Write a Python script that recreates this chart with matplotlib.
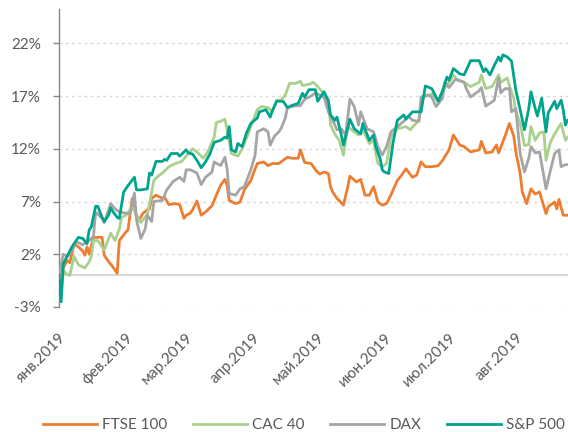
import matplotlib
matplotlib.use('Agg')
import matplotlib.pyplot as plt
import pandas as pd

plt.rcParams['font.family'] = ['Lato', 'DejaVu Sans']

# ---- data (days since 2019-01-01, cumulative change in %) ----
month_ticks = ['2019-01-01', '2019-02-01', '2019-03-01', '2019-04-01',
               '2019-05-01', '2019-06-01', '2019-07-01', '2019-08-01']
month_labels = ['янв.2019', 'фев.2019', 'мар.2019', 'апр.2019',
                'май.2019', 'июн.2019', 'июл.2019', 'авг.2019']
y_ticks = [-3, 2, 7, 12, 17, 22]

ftse_day = [0, 3, 4, 5, 7, 9, 11, 12, 13, 14,
            16, 20, 21, 23, 25, 27, 28, 31, 32, 34,
            36, 37, 39, 41, 42, 43, 45, 48, 49, 51,
            54, 56, 58, 59, 61, 62, 64, 66, 68, 71,
            73, 75, 77, 78, 79, 82, 84, 86, 89, 91,
            92, 95, 97, 99, 102, 104, 106, 108, 111, 112,
            114, 117, 119, 121, 123, 125, 126, 127, 129, 132,
            134, 135, 138, 140, 142, 144, 146, 148, 150, 152,
            154, 157, 159, 161, 164, 166, 168, 170, 173, 176,
            178, 181, 183, 186, 188, 191, 195, 196, 198, 201,
            203, 204, 207, 209, 211, 212, 214, 215, 217, 219,
            221, 223, 226, 227, 230, 231, 232, 234, 236]
ftse_pct = [0, 1.1, 1.4, 1.2, 3.0, 2.7, 2.3, 1.9, 2.7, 2.0,
            3.6, 3.6, 1.9, 1.3, 0.8, 0.2, 3.3, 4.1, 4.3, 7.3,
            5.5, 5.2, 5.9, 6.2, 6.3, 7.3, 7.6, 7.3, 7.4, 6.7,
            6.8, 6.7, 5.4, 5.7, 5.9, 6.2, 7.05, 5.7, 6.0, 6.6,
            7.6, 8.55, 9.1, 8.55, 7.1, 6.8, 6.95, 8.1, 9.0, 10.1,
            10.6, 10.75, 10.4, 10.6, 10.6, 10.9, 11.2, 11.1, 11.1, 11.9,
            10.7, 10.6, 10.0, 9.6, 9.8, 9.65, 8.4, 7.9, 7.3, 6.65,
            8.4, 9.4, 8.85, 9.1, 7.6, 7.6, 8.4, 6.95, 6.65, 6.8,
            7.6, 9.0, 9.5, 10.1, 9.3, 9.5, 10.75, 10.3, 10.3, 10.4,
            10.9, 11.9, 13.3, 12.35, 12.2, 11.7, 11.9, 12.7, 11.6, 11.7,
            12.35, 11.6, 13.2, 14.4, 13.2, 11.7, 9.65, 7.9, 6.8, 8.2,
            7.7, 7.9, 5.85, 6.5, 6.95, 6.3, 7.2, 5.7, 5.7]

cac_day = [0, 1, 2, 3, 5, 7, 9, 12, 14, 15,
           16, 18, 21, 24, 26, 28, 29, 31, 34, 36,
           38, 41, 42, 44, 46, 48, 51, 54, 57, 60,
           62, 64, 67, 69, 72, 73, 75, 77, 78, 80,
           83, 85, 88, 89, 92, 94, 97, 99, 101, 103,
           105, 107, 110, 112, 113, 116, 118, 120, 123, 125,
           126, 128, 130, 132, 134, 137, 139, 141, 144, 146,
           147, 148, 150, 152, 154, 157, 161, 163, 165, 167,
           169, 173, 176, 178, 181, 183, 185, 188, 191, 195,
           196, 198, 201, 204, 205, 208, 209, 211, 212, 214,
           216, 218, 219, 221, 223, 225, 226, 228, 230, 233,
           234, 235, 236]
cac_pct = [0, -1.5, 0.5, 0.2, 0.0, 1.8, 1.0, 0.7, 1.3, 1.8,
           3.3, 3.3, 2.4, 4.0, 3.3, 4.4, 5.5, 5.7, 6.5, 5.7,
           5.0, 5.8, 6.8, 9.0, 9.4, 9.7, 10.3, 10.6, 10.8, 11.55,
           12.0, 11.7, 11.1, 11.7, 13.1, 14.5, 14.6, 14.8, 13.8, 11.55,
           11.3, 12.0, 13.5, 14.1, 15.7, 16.0, 15.9, 15.5, 16.6, 16.6,
           17.1, 18.2, 18.2, 18.4, 18.0, 18.1, 18.3, 17.9, 17.2, 16.7,
           14.25, 13.4, 12.8, 11.4, 14.1, 13.6, 13.3, 13.8, 12.5, 12.8,
           11.6, 10.6, 10.3, 10.6, 13.1, 13.9, 14.1, 13.8, 14.25, 14.7,
           16.9, 17.2, 16.5, 17.5, 18.3, 19.0, 18.5, 18.3, 17.9, 18.3,
           19.0, 17.7, 17.9, 19.0, 18.3, 18.7, 18.0, 16.8, 15.5, 14.4,
           12.3, 12.4, 14.1, 12.8, 13.5, 13.6, 10.9, 12.6, 13.4, 14.4,
           13.6, 12.8, 13.1]

dax_day = [0, 2, 4, 7, 8, 11, 14, 16, 17, 20,
           21, 24, 26, 28, 31, 33, 35, 36, 38, 40,
           41, 43, 44, 48, 50, 53, 56, 58, 59, 61,
           64, 66, 68, 71, 72, 75, 77, 78, 79, 82,
           84, 86, 89, 91, 92, 95, 97, 98, 100, 102,
           103, 105, 106, 109, 112, 114, 117, 119, 120, 123,
           125, 127, 129, 131, 133, 135, 137, 139, 140, 143,
           146, 148, 150, 152, 154, 157, 160, 162, 164, 167,
           168, 171, 173, 175, 178, 179, 181, 184, 188, 189,
           191, 195, 196, 198, 201, 202, 204, 205, 207, 209,
           210, 212, 214, 216, 218, 219, 221, 223, 226, 228,
           230, 232, 233, 235, 236]
dax_pct = [0, 2.0, 1.8, 2.7, 3.2, 2.9, 3.3, 3.7, 6.0, 5.4,
           5.0, 6.8, 6.3, 6.0, 5.9, 5.8, 7.8, 5.2, 3.5, 4.4,
           5.7, 5.1, 7.0, 7.1, 8.1, 8.9, 9.3, 8.9, 10.0, 10.0,
           9.7, 8.6, 9.3, 9.8, 10.75, 10.4, 11.2, 10.1, 7.75, 7.6,
           8.2, 8.4, 10.0, 11.4, 13.6, 13.9, 13.6, 12.35, 13.2, 13.6,
           13.9, 14.9, 15.9, 16.05, 16.1, 16.7, 17.0, 17.3, 17.2, 16.9,
           15.5, 14.7, 13.8, 13.9, 13.3, 16.7, 16.0, 14.25, 15.5, 13.9,
           13.6, 12.2, 11.4, 12.2, 13.6, 14.1, 14.6, 15.1, 14.7, 14.6,
           16.9, 17.1, 16.9, 16.0, 16.8, 18.3, 17.8, 18.6, 18.3, 17.7,
           16.9, 17.5, 17.8, 16.05, 16.45, 16.6, 18.7, 17.3, 17.7, 17.7,
           15.5, 15.8, 11.55, 9.8, 11.1, 12.2, 11.6, 11.7, 8.2, 9.9,
           11.55, 11.9, 10.3, 10.5, 10.5]

sp_day = [0, 1, 2, 4, 6, 9, 11, 13, 14, 15,
          17, 18, 20, 21, 23, 24, 25, 27, 28, 30,
          32, 35, 36, 38, 41, 42, 43, 45, 48, 49,
          50, 52, 55, 56, 59, 60, 62, 64, 66, 68,
          70, 72, 75, 77, 78, 79, 80, 82, 83, 85,
          87, 89, 92, 93, 96, 98, 99, 101, 104, 106,
          108, 111, 113, 114, 116, 119, 120, 123, 125, 126,
          128, 129, 131, 132, 135, 137, 140, 141, 144, 146,
          147, 149, 150, 151, 153, 155, 157, 160, 161, 164,
          168, 170, 173, 175, 176, 178, 180, 181, 183, 186,
          188, 191, 195, 197, 198, 200, 202, 204, 205, 206,
          208, 210, 212, 214, 216, 218, 219, 221, 222, 224,
          226, 227, 230, 231, 233, 234, 235, 236]
sp_pct = [0, -2.5, 1.1, 1.9, 2.7, 3.6, 3.5, 3.0, 4.3, 4.6,
          6.55, 6.55, 5.5, 5.1, 5.7, 6.4, 6.05, 5.5, 5.4, 7.9,
          8.5, 9.3, 8.1, 8.1, 8.2, 9.7, 9.5, 10.8, 10.8, 11.0,
          10.9, 11.55, 11.55, 11.3, 11.9, 11.6, 11.5, 10.9, 10.2, 10.75,
          11.5, 12.6, 12.8, 13.1, 13.0, 14.1, 11.9, 11.7, 12.5, 12.2,
          13.5, 14.4, 14.9, 15.5, 15.7, 15.0, 15.6, 16.5, 16.5, 15.9,
          16.1, 16.3, 17.25, 16.9, 17.6, 17.6, 16.5, 17.4, 16.5, 15.2,
          14.7, 15.0, 13.3, 12.35, 14.8, 13.9, 13.4, 14.4, 12.8, 13.3,
          12.2, 11.1, 10.0, 9.8, 9.65, 12.55, 14.7, 15.2, 14.8, 15.5,
          15.5, 17.95, 17.7, 16.9, 16.5, 17.5, 18.8, 18.5, 19.6, 19.1,
          19.0, 20.35, 20.35, 19.3, 19.6, 19.0, 19.9, 20.7, 20.3, 20.9,
          20.7, 20.3, 17.55, 15.7, 13.8, 15.8, 17.4, 15.8, 15.1, 16.8,
          13.6, 15.4, 16.5, 15.8, 16.6, 15.7, 14.25, 14.7]

series = [
    ('FTSE 100', ftse_day, ftse_pct, '#ED7D31'),
    ('CAC 40', cac_day, cac_pct, '#A9D18E'),
    ('DAX', dax_day, dax_pct, '#A5A5A5'),
    ('S&P 500', sp_day, sp_pct, '#00A38D'),
]

base = pd.Timestamp('2019-01-01')

def to_dates(days):
    return [base + pd.Timedelta(days=d) for d in days]

fig = plt.figure(figsize=(5.68, 4.32), dpi=100)
ax = fig.add_axes([59 / 568, 1 - 307 / 432, 1 - 59 / 568, (307 - 9.5) / 432])

text_col = '#595959'

for name, d, v, c in series:
    ax.plot(to_dates(d), v, color=c, lw=2.0, label=name, zorder=3,
            solid_joinstyle='round')

ax.axhline(0, color='#D9D9D9', lw=1.5, zorder=1)

ax.set_ylim(-3, 25.2)
ax.set_xlim(base, base + pd.Timedelta(days=236.2))
ax.set_yticks(y_ticks)
ax.set_yticklabels([f'{t}%' for t in y_ticks])
ax.yaxis.grid(True, linestyle=(0, (2, 2.5)), color='#D9D9D9', lw=1)
ax.set_axisbelow(True)

ax.set_xticks([pd.Timestamp(t) for t in month_ticks])
ax.set_xticklabels(month_labels)
for lab in ax.get_xticklabels():
    lab.set_rotation(45)
    lab.set_ha('right')
    lab.set_va('top')
    lab.set_rotation_mode('anchor')

ax.tick_params(axis='x', length=0, pad=17, labelsize=11, labelcolor=text_col)
ax.tick_params(axis='y', length=4, width=1, color='#868686', pad=9,
               labelsize=11, labelcolor=text_col)

for s in ['top', 'right', 'bottom']:
    ax.spines[s].set_visible(False)
ax.spines['left'].set_color('#868686')
ax.spines['left'].set_linewidth(1)

fig.legend(loc='center', bbox_to_anchor=(304 / 568, 1 - 425 / 432), ncol=4,
           frameon=False, fontsize=11, labelcolor=text_col,
           handlelength=3.5, handletextpad=0.35, columnspacing=1.7)

fig.savefig('out.png', dpi=100)
